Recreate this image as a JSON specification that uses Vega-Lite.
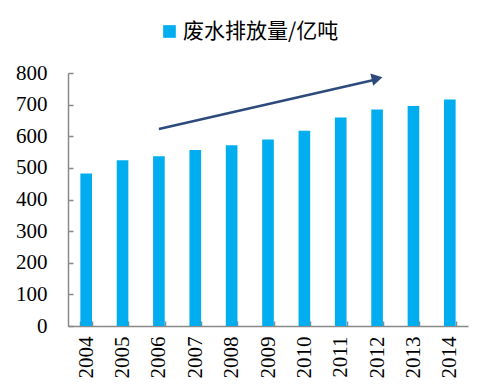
{
  "$schema": "https://vega.github.io/schema/vega-lite/v6.json",
  "width": 400,
  "height": 253,
  "autosize": "none",
  "padding": {"left": 68, "top": 73, "right": 13, "bottom": 64},
  "background": "white",
  "config": {
    "view": {"stroke": null},
    "style": {"guide-label": {"font": "Liberation Serif", "fontSize": 21, "fill": "#000000"}},
    "axisX": {
      "title": null, "labelFont": "Liberation Serif", "labelFontSize": 21, "labelColor": "#000000",
      "labelOverlap": false, "tickColor": "#898989", "tickWidth": 1.5, "tickSize": -5,
      "domainColor": "#898989", "domainWidth": 1.5, "grid": false,
      "labelAngle": 270, "labelAlign": "right", "labelBaseline": "middle", "labelPadding": 15,
      "tickBand": "extent"
    },
    "axisY": {
      "title": null, "labelFont": "Liberation Serif", "labelFontSize": 21, "labelColor": "#000000",
      "labelOverlap": false, "tickColor": "#898989", "tickWidth": 1.5, "tickSize": -5,
      "domainColor": "#898989", "domainWidth": 1.5, "grid": false,
      "labelPadding": 26, "tickCount": 8
    }
  },
  "datasets": {
    "bars": [
      {"year": "2004", "value": 482.4, "series": "废水排放量/亿吨"},
      {"year": "2005", "value": 524.5, "series": "废水排放量/亿吨"},
      {"year": "2006", "value": 536.8, "series": "废水排放量/亿吨"},
      {"year": "2007", "value": 556.8, "series": "废水排放量/亿吨"},
      {"year": "2008", "value": 571.7, "series": "废水排放量/亿吨"},
      {"year": "2009", "value": 589.7, "series": "废水排放量/亿吨"},
      {"year": "2010", "value": 617.3, "series": "废水排放量/亿吨"},
      {"year": "2011", "value": 659.2, "series": "废水排放量/亿吨"},
      {"year": "2012", "value": 684.8, "series": "废水排放量/亿吨"},
      {"year": "2013", "value": 695.4, "series": "废水排放量/亿吨"},
      {"year": "2014", "value": 716.2, "series": "废水排放量/亿吨"}
    ],
    "arrow": [
      {"x1": "2006", "y1": 623, "x2": "2012", "y2": 780}
    ],
    "head": [
      {"x": "2012", "y": 783}
    ]
  },
  "layer": [
    {
      "data": {"name": "bars"},
      "mark": {"type": "bar", "color": "#00AEEF"},
      "encoding": {
        "x": {
          "field": "year", "type": "nominal",
          "scale": {"paddingInner": 0.68, "paddingOuter": 0.34}
        },
        "y": {
          "field": "value", "type": "quantitative",
          "scale": {"domain": [0, 800]}
        },
        "color": {
          "field": "series", "type": "nominal",
          "scale": {"range": ["#00AEEF"]},
          "legend": {
            "title": null, "orient": "none", "legendX": 91, "legendY": -52,
            "symbolType": "square", "symbolSize": 160, "symbolStrokeWidth": 0,
            "labelFont": "Noto Sans CJK SC", "labelFontSize": 21, "labelColor": "#000000",
            "labelOffset": 3
          }
        }
      }
    },
    {
      "data": {"name": "arrow"},
      "mark": {"type": "rule", "color": "#2E4A7D", "strokeWidth": 2.5},
      "encoding": {
        "x": {"field": "x1", "type": "nominal"},
        "x2": {"field": "x2"},
        "y": {"field": "y1", "type": "quantitative"},
        "y2": {"field": "y2"}
      }
    },
    {
      "data": {"name": "head"},
      "mark": {"type": "point", "shape": "triangle-right", "filled": true, "color": "#2E4A7D", "opacity": 1, "size": 160, "angle": 347},
      "encoding": {
        "x": {"field": "x", "type": "nominal"},
        "y": {"field": "y", "type": "quantitative"}
      }
    }
  ]
}
